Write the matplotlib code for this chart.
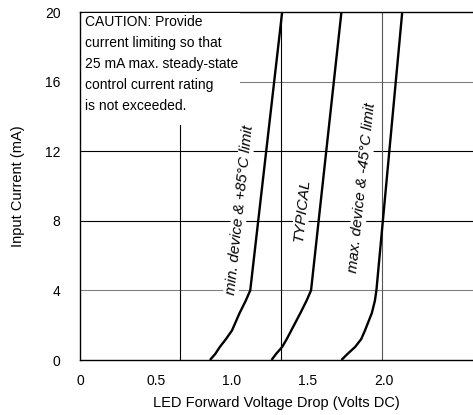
import numpy as np
import matplotlib.pyplot as plt

plt.rcParams["font.family"] = ["Liberation Sans", "DejaVu Sans"]

# LED forward voltage (V) vs input current (mA)
min_v = [0.855, 0.89, 0.92, 0.96, 1.0, 1.05, 1.09, 1.12, 1.33]
min_i = [0, 0.35, 0.75, 1.2, 1.7, 2.7, 3.4, 4.0, 20]
typ_v = [1.26, 1.29, 1.33, 1.36, 1.39, 1.45, 1.49, 1.52, 1.72]
typ_i = [0, 0.35, 0.75, 1.2, 1.7, 2.7, 3.4, 4.0, 20]
max_v = [1.72, 1.76, 1.81, 1.85, 1.875, 1.92, 1.94, 1.95, 2.12]
max_i = [0, 0.35, 0.75, 1.2, 1.7, 2.7, 3.4, 4.0, 20]

x_ticks = [0, 0.5, 1.0, 1.5, 2.0]
x_tick_labels = ["0", "0.5", "1.0", "1.5", "2.0"]
y_ticks = [0, 4, 8, 12, 16, 20]

fig = plt.figure(figsize=(4.73, 4.15), dpi=100)
ax = fig.add_axes([80 / 473, 1 - 360 / 415, 1 - 80 / 473, 348 / 415])
ax.set_xlim(0, 393 / 152)
ax.set_ylim(0, 20)

grey = "#808080"
# grid lines as in the original sheet (not all are full length)
ax.axhline(4, color=grey, lw=0.8, zorder=1)
ax.axhline(8, color="black", lw=0.8, zorder=1)
ax.axhline(12, color="black", lw=0.8, zorder=1)
ax.axhline(16, xmin=1.05 / 2.585, color=grey, lw=0.8, zorder=1)
ax.axvline(0.66, ymax=13.5 / 20, color="black", lw=0.8, zorder=1)
ax.axvline(1.32, color="black", lw=0.8, zorder=1)
ax.axvline(1.99, color="#555555", lw=0.8, zorder=1)

for v, i in [(min_v, min_i), (typ_v, typ_i), (max_v, max_i)]:
    ax.plot(v, i, color="black", lw=1.7, zorder=4, solid_capstyle="butt")

box = dict(facecolor="white", edgecolor="none", pad=0.5)
ax.text(1.05, 8.6, "min. device & +85°C limit", rotation=84, fontsize=11,
        style="italic", ha="center", va="center", rotation_mode="anchor",
        bbox=box, zorder=3)
ax.text(1.46, 8.6, "TYPICAL", rotation=84, fontsize=11, style="italic",
        ha="center", va="center", rotation_mode="anchor", bbox=box, zorder=3)
ax.text(1.855, 9.9, "max. device & -45°C limit", rotation=84, fontsize=11,
        style="italic", ha="center", va="center", rotation_mode="anchor",
        bbox=box, zorder=3)

ax.text(0.012, 0.99, "CAUTION: Provide\ncurrent limiting so that\n"
        "25 mA max. steady-state\ncontrol current rating\nis not exceeded.",
        transform=ax.transAxes, fontsize=10, ha="left", va="top",
        linespacing=1.62, zorder=5,
        bbox=dict(facecolor="white", edgecolor="none", pad=1.5))

ax.set_xticks(x_ticks)
ax.set_xticklabels(x_tick_labels)
ax.set_yticks(y_ticks)
ax.tick_params(length=0, labelsize=10)
ax.tick_params(axis="y", pad=14)
ax.tick_params(axis="x", pad=10)

for s in ["left", "bottom", "top"]:
    ax.spines[s].set_linewidth(1.0)
ax.spines["right"].set_visible(False)

ax.set_xlabel("LED Forward Voltage Drop (Volts DC)", fontsize=10.5, labelpad=6)
ax.set_ylabel("Input Current (mA)", fontsize=10.5, labelpad=14)

fig.savefig("out.png", dpi=100)
